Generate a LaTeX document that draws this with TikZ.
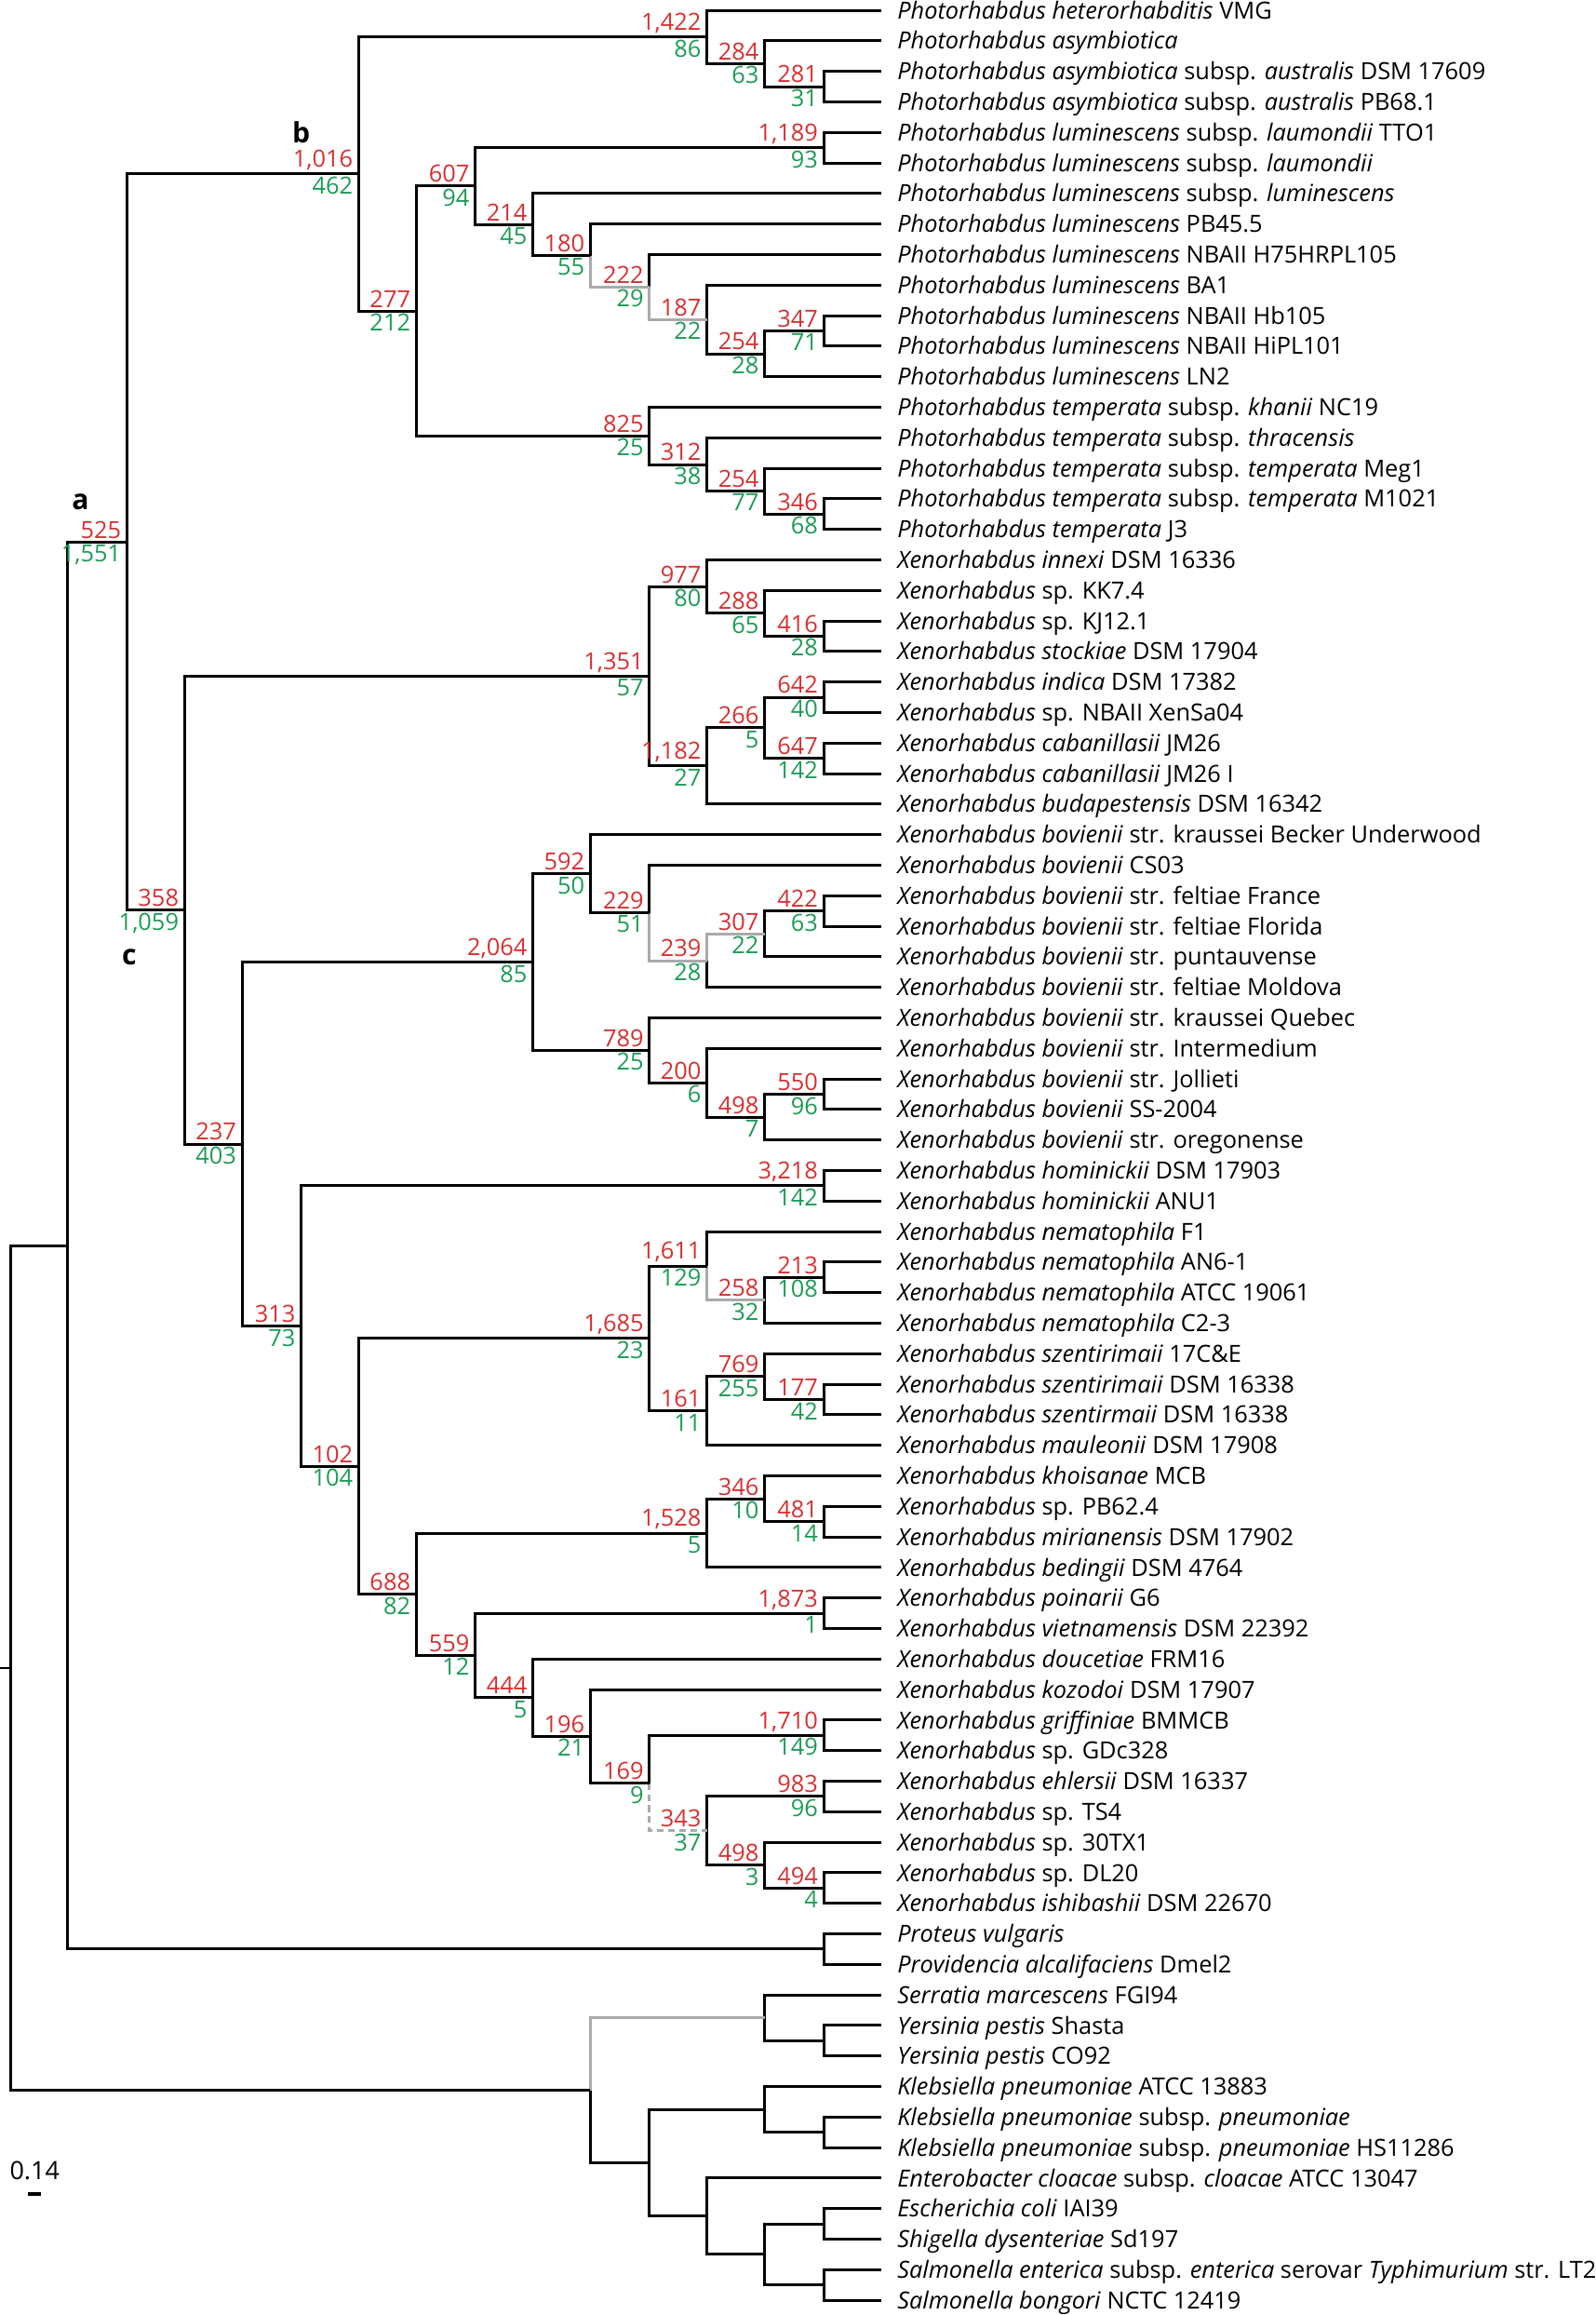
\documentclass[tikz,border=0pt]{standalone}
\usepackage{fontspec}
\setmainfont{Open Sans}
\definecolor{suppred}{RGB}{214,48,48}
\definecolor{bootgreen}{RGB}{28,155,85}
\definecolor{weakgray}{RGB}{170,170,170}

\begin{document}
\begin{tikzpicture}[x=1pt, y=-20.68pt, line width=1.9pt,
  taxon/.style = {anchor=west, inner xsep=10pt, inner ysep=0pt, text height=11.4pt, text depth=0pt, font=\fontsize{16}{18}\selectfont},
  up/.style = {above left, inner xsep=3pt, inner ysep=1.5pt, text=suppred, font=\fontsize{16}{18}\selectfont},
  down/.style = {below left, inner xsep=3pt, inner ysep=1pt, text=bootgreen, font=\fontsize{16}{18}\selectfont},
  weak/.style = {draw=weakgray},
  clade/.style = {inner sep=0pt, font=\fontsize{19}{22}\selectfont\bfseries}]
\useasboundingbox (0,-0.3385) rectangle (1081,75.483);

% taxa
\node[taxon] (t0) at (597,0) {\textit{Photorhabdus heterorhabditis} VMG};
\node[taxon] (t1) at (597,1) {\textit{Photorhabdus asymbiotica}};
\node[taxon] (t2) at (597,2) {\textit{Photorhabdus asymbiotica} subsp. \textit{australis} DSM 17609};
\node[taxon] (t3) at (597,3) {\textit{Photorhabdus asymbiotica} subsp. \textit{australis} PB68.1};
\node[taxon] (t4) at (597,4) {\textit{Photorhabdus luminescens} subsp. \textit{laumondii} TTO1};
\node[taxon] (t5) at (597,5) {\textit{Photorhabdus luminescens} subsp. \textit{laumondii}};
\node[taxon] (t6) at (597,6) {\textit{Photorhabdus luminescens} subsp. \textit{luminescens}};
\node[taxon] (t7) at (597,7) {\textit{Photorhabdus luminescens} PB45.5};
\node[taxon] (t8) at (597,8) {\textit{Photorhabdus luminescens} NBAII H75HRPL105};
\node[taxon] (t9) at (597,9) {\textit{Photorhabdus luminescens} BA1};
\node[taxon] (t10) at (597,10) {\textit{Photorhabdus luminescens} NBAII Hb105};
\node[taxon] (t11) at (597,11) {\textit{Photorhabdus luminescens} NBAII HiPL101};
\node[taxon] (t12) at (597,12) {\textit{Photorhabdus luminescens} LN2};
\node[taxon] (t13) at (597,13) {\textit{Photorhabdus temperata} subsp. \textit{khanii} NC19};
\node[taxon] (t14) at (597,14) {\textit{Photorhabdus temperata} subsp. \textit{thracensis}};
\node[taxon] (t15) at (597,15) {\textit{Photorhabdus temperata} subsp. \textit{temperata} Meg1};
\node[taxon] (t16) at (597,16) {\textit{Photorhabdus temperata} subsp. \textit{temperata} M1021};
\node[taxon] (t17) at (597,17) {\textit{Photorhabdus temperata} J3};
\node[taxon] (t18) at (597,18) {\textit{Xenorhabdus innexi} DSM 16336};
\node[taxon] (t19) at (597,19) {\textit{Xenorhabdus} sp. KK7.4};
\node[taxon] (t20) at (597,20) {\textit{Xenorhabdus} sp. KJ12.1};
\node[taxon] (t21) at (597,21) {\textit{Xenorhabdus stockiae} DSM 17904};
\node[taxon] (t22) at (597,22) {\textit{Xenorhabdus indica} DSM 17382};
\node[taxon] (t23) at (597,23) {\textit{Xenorhabdus} sp. NBAII XenSa04};
\node[taxon] (t24) at (597,24) {\textit{Xenorhabdus cabanillasii} JM26};
\node[taxon] (t25) at (597,25) {\textit{Xenorhabdus cabanillasii} JM26 I};
\node[taxon] (t26) at (597,26) {\textit{Xenorhabdus budapestensis} DSM 16342};
\node[taxon] (t27) at (597,27) {\textit{Xenorhabdus bovienii} str. kraussei Becker Underwood};
\node[taxon] (t28) at (597,28) {\textit{Xenorhabdus bovienii} CS03};
\node[taxon] (t29) at (597,29) {\textit{Xenorhabdus bovienii} str. feltiae France};
\node[taxon] (t30) at (597,30) {\textit{Xenorhabdus bovienii} str. feltiae Florida};
\node[taxon] (t31) at (597,31) {\textit{Xenorhabdus bovienii} str. puntauvense};
\node[taxon] (t32) at (597,32) {\textit{Xenorhabdus bovienii} str. feltiae Moldova};
\node[taxon] (t33) at (597,33) {\textit{Xenorhabdus bovienii} str. kraussei Quebec};
\node[taxon] (t34) at (597,34) {\textit{Xenorhabdus bovienii} str. Intermedium};
\node[taxon] (t35) at (597,35) {\textit{Xenorhabdus bovienii} str. Jollieti};
\node[taxon] (t36) at (597,36) {\textit{Xenorhabdus bovienii} SS-2004};
\node[taxon] (t37) at (597,37) {\textit{Xenorhabdus bovienii} str. oregonense};
\node[taxon] (t38) at (597,38) {\textit{Xenorhabdus hominickii} DSM 17903};
\node[taxon] (t39) at (597,39) {\textit{Xenorhabdus hominickii} ANU1};
\node[taxon] (t40) at (597,40) {\textit{Xenorhabdus nematophila} F1};
\node[taxon] (t41) at (597,41) {\textit{Xenorhabdus nematophila} AN6-1};
\node[taxon] (t42) at (597,42) {\textit{Xenorhabdus nematophila} ATCC 19061};
\node[taxon] (t43) at (597,43) {\textit{Xenorhabdus nematophila} C2-3};
\node[taxon] (t44) at (597,44) {\textit{Xenorhabdus szentirimaii} 17C\&E};
\node[taxon] (t45) at (597,45) {\textit{Xenorhabdus szentirimaii} DSM 16338};
\node[taxon] (t46) at (597,46) {\textit{Xenorhabdus szentirmaii} DSM 16338};
\node[taxon] (t47) at (597,47) {\textit{Xenorhabdus mauleonii} DSM 17908};
\node[taxon] (t48) at (597,48) {\textit{Xenorhabdus khoisanae} MCB};
\node[taxon] (t49) at (597,49) {\textit{Xenorhabdus} sp. PB62.4};
\node[taxon] (t50) at (597,50) {\textit{Xenorhabdus mirianensis} DSM 17902};
\node[taxon] (t51) at (597,51) {\textit{Xenorhabdus bedingii} DSM 4764};
\node[taxon] (t52) at (597,52) {\textit{Xenorhabdus poinarii} G6};
\node[taxon] (t53) at (597,53) {\textit{Xenorhabdus vietnamensis} DSM 22392};
\node[taxon] (t54) at (597,54) {\textit{Xenorhabdus doucetiae} FRM16};
\node[taxon] (t55) at (597,55) {\textit{Xenorhabdus kozodoi} DSM 17907};
\node[taxon] (t56) at (597,56) {\textit{Xenorhabdus griffiniae} BMMCB};
\node[taxon] (t57) at (597,57) {\textit{Xenorhabdus} sp. GDc328};
\node[taxon] (t58) at (597,58) {\textit{Xenorhabdus ehlersii} DSM 16337};
\node[taxon] (t59) at (597,59) {\textit{Xenorhabdus} sp. TS4};
\node[taxon] (t60) at (597,60) {\textit{Xenorhabdus} sp. 30TX1};
\node[taxon] (t61) at (597,61) {\textit{Xenorhabdus} sp. DL20};
\node[taxon] (t62) at (597,62) {\textit{Xenorhabdus ishibashii} DSM 22670};
\node[taxon] (t63) at (597,63) {\textit{Proteus vulgaris}};
\node[taxon] (t64) at (597,64) {\textit{Providencia alcalifaciens} Dmel2};
\node[taxon] (t65) at (597,65) {\textit{Serratia marcescens} FGI94};
\node[taxon] (t66) at (597,66) {\textit{Yersinia pestis} Shasta};
\node[taxon] (t67) at (597,67) {\textit{Yersinia pestis} CO92};
\node[taxon] (t68) at (597,68) {\textit{Klebsiella pneumoniae} ATCC 13883};
\node[taxon] (t69) at (597,69) {\textit{Klebsiella pneumoniae} subsp. \textit{pneumoniae}};
\node[taxon] (t70) at (597,70) {\textit{Klebsiella pneumoniae} subsp. \textit{pneumoniae} HS11286};
\node[taxon] (t71) at (597,71) {\textit{Enterobacter cloacae} subsp. \textit{cloacae} ATCC 13047};
\node[taxon] (t72) at (597,72) {\textit{Escherichia coli} IAI39};
\node[taxon] (t73) at (597,73) {\textit{Shigella dysenteriae} Sd197};
\node[taxon] (t74) at (597,74) {\textit{Salmonella enterica} subsp. \textit{enterica} serovar \textit{Typhimurium} str. LT2};
\node[taxon] (t75) at (597,75) {\textit{Salmonella bongori} NCTC 12419};

% internal nodes
\coordinate (n281) at (558,2.5);
\coordinate (n284) at (518,1.75);
\coordinate (n1422) at (479,0.875);
\coordinate (n1189) at (558,4.5);
\coordinate (n347) at (558,10.5);
\coordinate (n254a) at (518,11.25);
\coordinate (n187) at (479,10.125);
\coordinate (n222) at (440,9.0625);
\coordinate (n180) at (400,8.0313);
\coordinate (n214) at (361,7.0156);
\coordinate (n607) at (322,5.7578);
\coordinate (n346a) at (558,16.5);
\coordinate (n254b) at (518,15.75);
\coordinate (n312) at (479,14.875);
\coordinate (n825) at (440,13.9375);
\coordinate (n277) at (282,9.8477);
\coordinate (n1016) at (243,5.3613);
\coordinate (n416) at (558,20.5);
\coordinate (n288) at (518,19.75);
\coordinate (n977) at (479,18.875);
\coordinate (n642) at (558,22.5);
\coordinate (n647) at (558,24.5);
\coordinate (n266) at (518,23.5);
\coordinate (n1182) at (479,24.75);
\coordinate (n1351) at (440,21.8125);
\coordinate (n422) at (558,29.5);
\coordinate (n307) at (518,30.25);
\coordinate (n239) at (479,31.125);
\coordinate (n229) at (440,29.5625);
\coordinate (n592) at (400,28.2813);
\coordinate (n550) at (558,35.5);
\coordinate (n498a) at (518,36.25);
\coordinate (n200) at (479,35.125);
\coordinate (n789) at (440,34.0625);
\coordinate (n2064) at (361,31.1719);
\coordinate (n3218) at (558,38.5);
\coordinate (n213) at (558,41.5);
\coordinate (n258) at (518,42.25);
\coordinate (n1611) at (479,41.125);
\coordinate (n177) at (558,45.5);
\coordinate (n769) at (518,44.75);
\coordinate (n161) at (479,45.875);
\coordinate (n1685) at (440,43.5);
\coordinate (n481) at (558,49.5);
\coordinate (n346b) at (518,48.75);
\coordinate (n1528) at (479,49.875);
\coordinate (n1873) at (558,52.5);
\coordinate (n1710) at (558,56.5);
\coordinate (n983) at (558,58.5);
\coordinate (n494) at (558,61.5);
\coordinate (n498b) at (518,60.75);
\coordinate (n343) at (479,59.625);
\coordinate (n169) at (440,58.0625);
\coordinate (n196) at (400,56.5313);
\coordinate (n444) at (361,55.2656);
\coordinate (n559) at (322,53.8828);
\coordinate (n688) at (282,51.8789);
\coordinate (n102) at (243,47.6895);
\coordinate (n313) at (204,43.0947);
\coordinate (n237) at (164,37.1333);
\coordinate (n358) at (125,29.4729);
\coordinate (n525) at (86,17.4171);
\coordinate (npv) at (558,63.5);
\coordinate (ningroup) at (46,40.4585);
\coordinate (nyp) at (558,66.5);
\coordinate (nsy) at (518,65.75);
\coordinate (nkp) at (558,69.5);
\coordinate (nkl) at (518,68.75);
\coordinate (nec) at (558,72.5);
\coordinate (nsa) at (558,74.5);
\coordinate (nes) at (518,73.5);
\coordinate (nen) at (479,72.25);
\coordinate (nke) at (440,70.5);
\coordinate (nout) at (400,68.125);
\coordinate (nroot) at (7,54.2917);
\coordinate (stub) at (0,54.2917);

% Photorhabdus
\draw (n281) |- (t2.west);
\draw (n281) |- (t3.west);
\draw (n284) |- (t1.west);
\draw (n284) |- (n281);
\draw (n1422) |- (t0.west);
\draw (n1422) |- (n284);
\draw (n1189) |- (t4.west);
\draw (n1189) |- (t5.west);
\draw (n347) |- (t10.west);
\draw (n347) |- (t11.west);
\draw (n254a) |- (n347);
\draw (n254a) |- (t12.west);
\draw (n187) |- (t9.west);
\draw (n187) |- (n254a);
\draw (n222) |- (t8.west);
\draw[weak] (n222) |- (n187);
\draw (n180) |- (t7.west);
\draw[weak] (n180) |- (n222);
\draw (n214) |- (t6.west);
\draw (n214) |- (n180);
\draw (n607) |- (n1189);
\draw (n607) |- (n214);
\draw (n346a) |- (t16.west);
\draw (n346a) |- (t17.west);
\draw (n254b) |- (t15.west);
\draw (n254b) |- (n346a);
\draw (n312) |- (t14.west);
\draw (n312) |- (n254b);
\draw (n825) |- (t13.west);
\draw (n825) |- (n312);
\draw (n277) |- (n607);
\draw (n277) |- (n825);
\draw (n1016) |- (n1422);
\draw (n1016) |- (n277);

% Xenorhabdus
\draw (n416) |- (t20.west);
\draw (n416) |- (t21.west);
\draw (n288) |- (t19.west);
\draw (n288) |- (n416);
\draw (n977) |- (t18.west);
\draw (n977) |- (n288);
\draw (n642) |- (t22.west);
\draw (n642) |- (t23.west);
\draw (n647) |- (t24.west);
\draw (n647) |- (t25.west);
\draw (n266) |- (n642);
\draw (n266) |- (n647);
\draw (n1182) |- (n266);
\draw (n1182) |- (t26.west);
\draw (n1351) |- (n977);
\draw (n1351) |- (n1182);
\draw (n422) |- (t29.west);
\draw (n422) |- (t30.west);
\draw (n307) |- (n422);
\draw (n307) |- (t31.west);
\draw[weak] (n239) |- (n307);
\draw (n239) |- (t32.west);
\draw (n229) |- (t28.west);
\draw[weak] (n229) |- (n239);
\draw (n592) |- (t27.west);
\draw (n592) |- (n229);
\draw (n550) |- (t35.west);
\draw (n550) |- (t36.west);
\draw (n498a) |- (n550);
\draw (n498a) |- (t37.west);
\draw (n200) |- (t34.west);
\draw (n200) |- (n498a);
\draw (n789) |- (t33.west);
\draw (n789) |- (n200);
\draw (n2064) |- (n592);
\draw (n2064) |- (n789);
\draw (n3218) |- (t38.west);
\draw (n3218) |- (t39.west);
\draw (n213) |- (t41.west);
\draw (n213) |- (t42.west);
\draw (n258) |- (n213);
\draw (n258) |- (t43.west);
\draw (n1611) |- (t40.west);
\draw[weak] (n1611) |- (n258);
\draw (n177) |- (t45.west);
\draw (n177) |- (t46.west);
\draw (n769) |- (t44.west);
\draw (n769) |- (n177);
\draw (n161) |- (n769);
\draw (n161) |- (t47.west);
\draw (n1685) |- (n1611);
\draw (n1685) |- (n161);
\draw (n481) |- (t49.west);
\draw (n481) |- (t50.west);
\draw (n346b) |- (t48.west);
\draw (n346b) |- (n481);
\draw (n1528) |- (n346b);
\draw (n1528) |- (t51.west);
\draw (n1873) |- (t52.west);
\draw (n1873) |- (t53.west);
\draw (n1710) |- (t56.west);
\draw (n1710) |- (t57.west);
\draw (n983) |- (t58.west);
\draw (n983) |- (t59.west);
\draw (n494) |- (t61.west);
\draw (n494) |- (t62.west);
\draw (n498b) |- (t60.west);
\draw (n498b) |- (n494);
\draw (n343) |- (n983);
\draw (n343) |- (n498b);
\draw (n169) |- (n1710);
\draw[weak, dash pattern=on 4.5pt off 3pt] (n169) |- (n343);
\draw (n196) |- (t55.west);
\draw (n196) |- (n169);
\draw (n444) |- (t54.west);
\draw (n444) |- (n196);
\draw (n559) |- (n1873);
\draw (n559) |- (n444);
\draw (n688) |- (n1528);
\draw (n688) |- (n559);
\draw (n102) |- (n1685);
\draw (n102) |- (n688);
\draw (n313) |- (n3218);
\draw (n313) |- (n102);
\draw (n237) |- (n2064);
\draw (n237) |- (n313);
\draw (n358) |- (n1351);
\draw (n358) |- (n237);
\draw (n525) |- (n1016);
\draw (n525) |- (n358);
\draw (npv) |- (t63.west);
\draw (npv) |- (t64.west);
\draw (ningroup) |- (n525);
\draw (ningroup) |- (npv);

% outgroups
\draw (nyp) |- (t66.west);
\draw (nyp) |- (t67.west);
\draw (nsy) |- (t65.west);
\draw (nsy) |- (nyp);
\draw (nkp) |- (t69.west);
\draw (nkp) |- (t70.west);
\draw (nkl) |- (t68.west);
\draw (nkl) |- (nkp);
\draw (nec) |- (t72.west);
\draw (nec) |- (t73.west);
\draw (nsa) |- (t74.west);
\draw (nsa) |- (t75.west);
\draw (nes) |- (nec);
\draw (nes) |- (nsa);
\draw (nen) |- (t71.west);
\draw (nen) |- (nes);
\draw (nke) |- (nkl);
\draw (nke) |- (nen);
\draw[weak] (nout) |- (nsy);
\draw (nout) |- (nke);
\draw (nroot) |- (ningroup);
\draw (nroot) |- (nout);
\draw[line width=1pt] (stub) -- (nroot);

% support values
\node[up] (s281) at (n281) {281};     \node[down] (g281) at (n281) {31};
\node[up] (s284) at (n284) {284};     \node[down] (g284) at (n284) {63};
\node[up] (s1422) at (n1422) {1,422}; \node[down] (g1422) at (n1422) {86};
\node[up] (s1189) at (n1189) {1,189}; \node[down] (g1189) at (n1189) {93};
\node[up] (s347) at (n347) {347};     \node[down] (g347) at (n347) {71};
\node[up] (s254a) at (n254a) {254};   \node[down] (g254a) at (n254a) {28};
\node[up] (s187) at (n187) {187};     \node[down] (g187) at (n187) {22};
\node[up] (s222) at (n222) {222};     \node[down] (g222) at (n222) {29};
\node[up] (s180) at (n180) {180};     \node[down] (g180) at (n180) {55};
\node[up] (s214) at (n214) {214};     \node[down] (g214) at (n214) {45};
\node[up] (s607) at (n607) {607};     \node[down] (g607) at (n607) {94};
\node[up] (s346a) at (n346a) {346};   \node[down] (g346a) at (n346a) {68};
\node[up] (s254b) at (n254b) {254};   \node[down] (g254b) at (n254b) {77};
\node[up] (s312) at (n312) {312};     \node[down] (g312) at (n312) {38};
\node[up] (s825) at (n825) {825};     \node[down] (g825) at (n825) {25};
\node[up] (s277) at (n277) {277};     \node[down] (g277) at (n277) {212};
\node[up] (s1016) at (n1016) {1,016}; \node[down] (g1016) at (n1016) {462};
\node[up] (s416) at (n416) {416};     \node[down] (g416) at (n416) {28};
\node[up] (s288) at (n288) {288};     \node[down] (g288) at (n288) {65};
\node[up] (s977) at (n977) {977};     \node[down] (g977) at (n977) {80};
\node[up] (s642) at (n642) {642};     \node[down] (g642) at (n642) {40};
\node[up] (s647) at (n647) {647};     \node[down] (g647) at (n647) {142};
\node[up] (s266) at (n266) {266};     \node[down] (g266) at (n266) {5};
\node[up] (s1182) at (n1182) {1,182}; \node[down] (g1182) at (n1182) {27};
\node[up] (s1351) at (n1351) {1,351}; \node[down] (g1351) at (n1351) {57};
\node[up] (s422) at (n422) {422};     \node[down] (g422) at (n422) {63};
\node[up] (s307) at (n307) {307};     \node[down] (g307) at (n307) {22};
\node[up] (s239) at (n239) {239};     \node[down] (g239) at (n239) {28};
\node[up] (s229) at (n229) {229};     \node[down] (g229) at (n229) {51};
\node[up] (s592) at (n592) {592};     \node[down] (g592) at (n592) {50};
\node[up] (s550) at (n550) {550};     \node[down] (g550) at (n550) {96};
\node[up] (s498a) at (n498a) {498};   \node[down] (g498a) at (n498a) {7};
\node[up] (s200) at (n200) {200};     \node[down] (g200) at (n200) {6};
\node[up] (s789) at (n789) {789};     \node[down] (g789) at (n789) {25};
\node[up] (s2064) at (n2064) {2,064}; \node[down] (g2064) at (n2064) {85};
\node[up] (s3218) at (n3218) {3,218}; \node[down] (g3218) at (n3218) {142};
\node[up] (s213) at (n213) {213};     \node[down] (g213) at (n213) {108};
\node[up] (s258) at (n258) {258};     \node[down] (g258) at (n258) {32};
\node[up] (s1611) at (n1611) {1,611}; \node[down] (g1611) at (n1611) {129};
\node[up] (s177) at (n177) {177};     \node[down] (g177) at (n177) {42};
\node[up] (s769) at (n769) {769};     \node[down] (g769) at (n769) {255};
\node[up] (s161) at (n161) {161};     \node[down] (g161) at (n161) {11};
\node[up] (s1685) at (n1685) {1,685}; \node[down] (g1685) at (n1685) {23};
\node[up] (s481) at (n481) {481};     \node[down] (g481) at (n481) {14};
\node[up] (s346b) at (n346b) {346};   \node[down] (g346b) at (n346b) {10};
\node[up] (s1528) at (n1528) {1,528}; \node[down] (g1528) at (n1528) {5};
\node[up] (s1873) at (n1873) {1,873}; \node[down] (g1873) at (n1873) {1};
\node[up] (s1710) at (n1710) {1,710}; \node[down] (g1710) at (n1710) {149};
\node[up] (s983) at (n983) {983};     \node[down] (g983) at (n983) {96};
\node[up] (s494) at (n494) {494};     \node[down] (g494) at (n494) {4};
\node[up] (s498b) at (n498b) {498};   \node[down] (g498b) at (n498b) {3};
\node[up] (s343) at (n343) {343};     \node[down] (g343) at (n343) {37};
\node[up] (s169) at (n169) {169};     \node[down] (g169) at (n169) {9};
\node[up] (s196) at (n196) {196};     \node[down] (g196) at (n196) {21};
\node[up] (s444) at (n444) {444};     \node[down] (g444) at (n444) {5};
\node[up] (s559) at (n559) {559};     \node[down] (g559) at (n559) {12};
\node[up] (s688) at (n688) {688};     \node[down] (g688) at (n688) {82};
\node[up] (s102) at (n102) {102};     \node[down] (g102) at (n102) {104};
\node[up] (s313) at (n313) {313};     \node[down] (g313) at (n313) {73};
\node[up] (s237) at (n237) {237};     \node[down] (g237) at (n237) {403};
\node[up] (s358) at (n358) {358};     \node[down] (g358) at (n358) {1,059};
\node[up] (s525) at (n525) {525};     \node[down] (g525) at (n525) {1,551};

% clade letters
\node[clade] (cla) at (54.5,16.1) {a};
\node[clade] (clb) at (204,4.01) {b};
\node[clade] (clc) at (87.5,31.0) {c};

% scale bar
\node[font=\fontsize{17}{19}\selectfont, inner sep=0pt] (scale) at (23.5,70.74) {0.14};
\coordinate (barl) at (19,71.52);
\coordinate (barr) at (28,71.52);
\draw[line width=3pt] (barl) -- (barr);
\end{tikzpicture}
\end{document}
